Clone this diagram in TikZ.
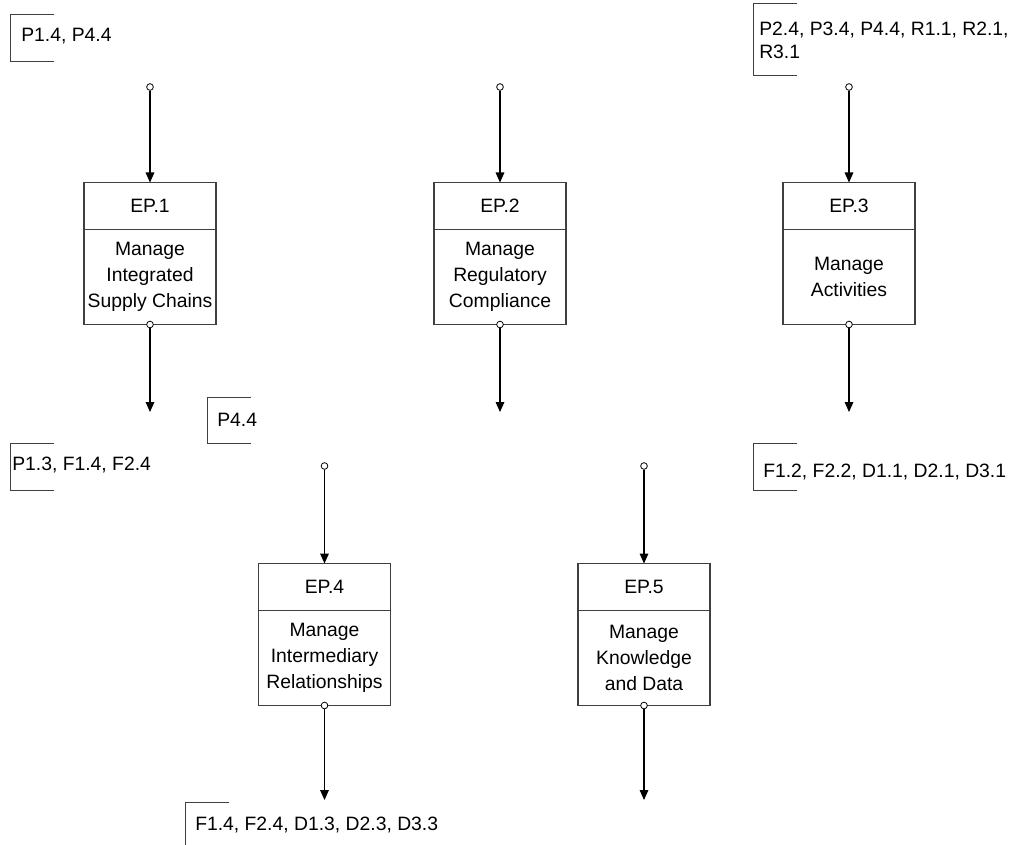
\documentclass[tikz,border=0pt]{standalone}
\usepackage{fontspec}
\setmainfont{Liberation Sans}
\usetikzlibrary{positioning, arrows.meta}

\begin{document}
\begin{tikzpicture}[x = 0.75pt, y = -0.75pt, font = \fontsize{14.5pt}{19.3pt}\selectfont,
        head/.style = {draw = black!75, line width = 0.8pt, minimum width = 99pt, minimum height = 35.25pt, inner sep = 0pt, outer sep = 0pt},
        body/.style = {head, minimum height = 71.25pt, align = center},
        port/.style = {circle, draw, fill = white, line width = 0.6pt, minimum size = 5pt, inner sep = 0pt},
        flow/.style = {line width = 0.8pt, -{Triangle[length = 7.5pt, width = 6.5pt]}},
        note/.style = {anchor = base west, inner sep = 0pt, align = left, font = \fontsize{14.5pt}{17.3pt}\selectfont},
        brace/.style = {draw = black!75, line width = 0.7pt}]
    \useasboundingbox (0,0) rectangle (1021,845);
    \node[head] (ep1h) at (150,206) {EP.1};
    \node[body, below = 0pt of ep1h] (ep1b) {Manage\\Integrated\\Supply Chains};
    \node[head] (ep2h) at (500,206) {EP.2};
    \node[body, below = 0pt of ep2h] (ep2b) {Manage\\Regulatory\\Compliance};
    \node[head] (ep3h) at (849,206) {EP.3};
    \node[body, below = 0pt of ep3h] (ep3b) {Manage\\Activities};
    \node[head] (ep4h) at (324.5,587) {EP.4};
    \node[body, below = 0pt of ep4h] (ep4b) {Manage\\Intermediary\\Relationships};
    \node[head] (ep5h) at (644,587) {EP.5};
    \node[body, below = 0pt of ep5h] (ep5b) {Manage\\Knowledge\\and Data};
    \node[port] (in1) at (150,87) {};
    \node[port] (in2) at (500,87) {};
    \node[port] (in3) at (849,87) {};
    \node[port] (in4) at (324.5,466) {};
    \node[port] (in5) at (644,466) {};
    \coordinate (end1) at (150,412);
    \coordinate (end2) at (500,412);
    \coordinate (end3) at (849,412);
    \coordinate (end4) at (324.5,800);
    \coordinate (end5) at (644,800);
    \draw[flow] (in1) -- (ep1h.north);
    \draw[flow] (in2) -- (ep2h.north);
    \draw[flow] (in3) -- (ep3h.north);
    \draw[flow] (in4) -- (ep4h.north);
    \draw[flow] (in5) -- (ep5h.north);
    \node[port] (out1) at (ep1b.south) {};
    \node[port] (out2) at (ep2b.south) {};
    \node[port] (out3) at (ep3b.south) {};
    \node[port] (out4) at (ep4b.south) {};
    \node[port] (out5) at (ep5b.south) {};
    \draw[flow] (out1) -- (end1);
    \draw[flow] (out2) -- (end2);
    \draw[flow] (out3) -- (end3);
    \draw[flow] (out4) -- (end4);
    \draw[flow] (out5) -- (end5);
    \draw[brace] (54,14) -- (10,14) -- (10,61) -- (54,61);
    \node[note] (ref1) at (21,42) {P1.4, P4.4};
    \draw[brace] (54,443) -- (10,443) -- (10,490) -- (54,490);
    \node[note] (res1) at (12,470) {P1.3, F1.4, F2.4};
    \draw[brace] (251,397) -- (207,397) -- (207,443) -- (251,443);
    \node[note] (ref4) at (217,426) {P4.4};
    \draw[brace] (797,3) -- (753,3) -- (753,75) -- (797,75);
    \node[note] (ref3) at (759,59) {P2.4, P3.4, P4.4, R1.1, R2.1,\\R3.1};
    \draw[brace] (797,443) -- (753,443) -- (753,490) -- (797,490);
    \node[note] (res3) at (763,477) {F1.2, F2.2, D1.1, D2.1, D3.1};
    \draw[brace] (229,802) -- (185,802) -- (185,849);
    \node[note] (res4) at (195,830) {F1.4, F2.4, D1.3, D2.3, D3.3};
\end{tikzpicture}
\end{document}
